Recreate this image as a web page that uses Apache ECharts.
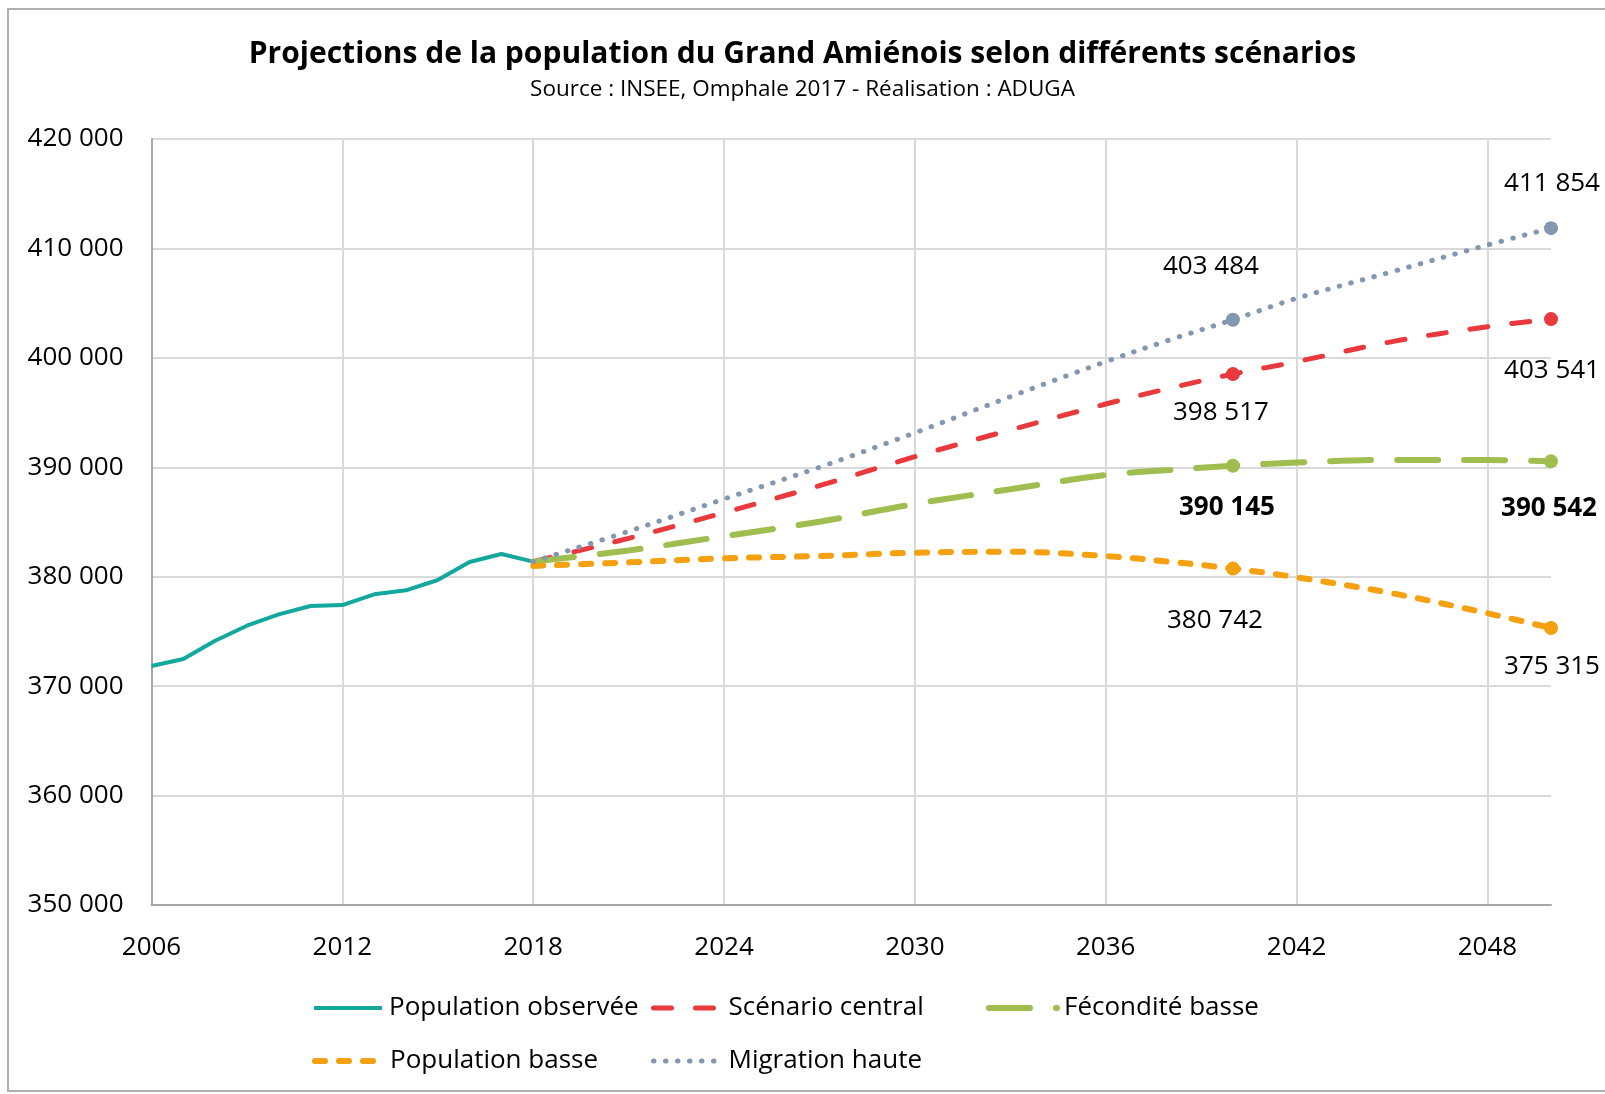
<!DOCTYPE html>
<html>
<head>
<meta charset="utf-8">
<script src="https://cdn.jsdelivr.net/npm/echarts@6/dist/echarts.min.js"></script>
<style>
html,body{margin:0;padding:0;background:#fff;}
#chart{width:1605px;height:1094px;}
</style>
</head>
<body>
<div id="chart"></div>
<script>
// ---------- DATA ----------
const titleText = 'Projections de la population du Grand Amiénois selon différents scénarios';
const subtitleText = 'Source : INSEE, Omphale 2017 - Réalisation : ADUGA';

const seriesNames = ['Population observée', 'Scénario central', 'Fécondité basse', 'Population basse', 'Migration haute'];

const obsYears = [2006, 2007, 2008, 2009, 2010, 2011, 2012, 2013, 2014, 2015, 2016, 2017, 2018];
const obsValues = [371837, 372480, 374150, 375520, 376560, 377320, 377410, 378390, 378755, 379700, 381340, 382075, 381378];

const projYears = [2018, 2021, 2024, 2027, 2030, 2033, 2036, 2038, 2040, 2042, 2045, 2048, 2050];
const centralValues   = [381378, 383510, 385850, 388320, 390970, 393410, 395780, 397220, 398517, 399650, 401480, 402850, 403541];
const feconditeValues = [381378, 382400, 383700, 385030, 386650, 387990, 389300, 389750, 390145, 390440, 390670, 390670, 390542];
const popBasseValues  = [380980, 381310, 381680, 381890, 382190, 382280, 381890, 381370, 380742, 379950, 378490, 376660, 375315];
const migrationValues = [381378, 384150, 387100, 390000, 393150, 396450, 399650, 401630, 403484, 405440, 407870, 410310, 411854];

const markerYears = [2040, 2050];
const annotationYears = [2040, 2050];

const yTicks = {min: 350000, max: 420000, interval: 10000};
const xTicks = {min: 2006, max: 2050, interval: 6};

// ---------- HELPERS ----------
const FONT = '"Open Sans", "Noto Sans", sans-serif';
function fmt(v){ return String(Math.round(v)).replace(/\B(?=(\d{3})+(?!\d))/g, ' '); }

function projData(values, offsets, bold){
  return projYears.map((y, i) => {
    const item = {value: [y, values[i]]};
    if (markerYears.indexOf(y) >= 0) {
      item.symbol = 'circle';
      item.symbolSize = 14;
      item.label = {
        show: true, position: 'inside', offset: offsets[y],
        formatter: p => fmt(p.value[1]),
        fontSize: 26, fontFamily: FONT, color: '#000',
        fontWeight: bold ? 'bold' : 'normal'
      };
    }
    return item;
  });
}

const obsData = obsYears.map((y, i) => {
  const item = {value: [y, obsValues[i]]};
  if (i === obsYears.length - 1) {
    item.symbol = 'circle';
    item.symbolSize = 1;
    item.itemStyle = {opacity: 0};
    item.label = {show: true, position: 'inside', offset: [-16, -57],
      formatter: p => fmt(p.value[1]), fontSize: 26, fontFamily: FONT, color: '#000'};
  }
  return item;
});

const colors = {
  obs: '#13a89e', central: '#e8393c', fec: '#a0bd50', basse: '#f5a00f', migr: '#8497b0'
};

function mkLegend(name, left, top, lw){
  return {
    data: [name], left: left, top: top, padding: 0,
    itemWidth: 68, itemHeight: 16, itemGap: 0,
    itemStyle: {opacity: 0, borderWidth: 0},
    lineStyle: {width: lw},
    textStyle: {fontSize: 26, fontFamily: FONT, color: '#000', padding: [0, 0, 0, 2]}
  };
}

const chart = echarts.init(document.getElementById('chart'), null, {renderer: 'canvas'});
chart.setOption({
  animation: false,
  backgroundColor: '#fff',
  title: {
    text: titleText, subtext: subtitleText, left: 'center', top: 31, itemGap: 4,
    textStyle: {fontSize: 30, fontWeight: 'bold', fontFamily: FONT, color: '#000', lineHeight: 36},
    subtextStyle: {fontSize: 22.5, fontFamily: FONT, color: '#000', lineHeight: 28}
  },
  graphic: [{
    type: 'rect', shape: {x: 8, y: 9, width: 1650, height: 1082},
    style: {fill: 'none', stroke: '#b0b0b0', lineWidth: 2}, silent: true, z: -1
  }],
  grid: {left: 151.5, right: 54, top: 139, bottom: 189, containLabel: false},
  legend: [
    mkLegend(seriesNames[0], 312, 995, 4),
    mkLegend(seriesNames[1], 651, 995, 5),
    mkLegend(seriesNames[2], 986, 995, 6),
    mkLegend(seriesNames[3], 312, 1048, 6),
    mkLegend(seriesNames[4], 651, 1048, 5)
  ],
  xAxis: {
    type: 'value', min: xTicks.min, max: xTicks.max, interval: xTicks.interval,
    axisLine: {show: true, lineStyle: {color: '#a6a6a6', width: 2}},
    axisTick: {show: false},
    axisLabel: {fontSize: 26, fontFamily: FONT, color: '#000', margin: 30, showMaxLabel: false,
      formatter: v => String(v)},
    splitLine: {show: true, showMinLine: false, showMaxLine: false, lineStyle: {color: '#d9d9d9', width: 2}}
  },
  yAxis: {
    type: 'value', min: yTicks.min, max: yTicks.max, interval: yTicks.interval,
    axisLine: {show: true, lineStyle: {color: '#a6a6a6', width: 2}},
    axisTick: {show: false},
    axisLabel: {fontSize: 26, fontFamily: FONT, color: '#000', margin: 28, formatter: v => fmt(v)},
    splitLine: {show: true, lineStyle: {color: '#d9d9d9', width: 2}}
  },
  series: [
    {
      name: seriesNames[0], type: 'line', data: obsData, symbol: 'none', z: 3,
      color: colors.obs, lineStyle: {color: colors.obs, width: 4}
    },
    {
      name: seriesNames[1], type: 'line', smooth: 0.35, symbol: 'none', z: 4,
      color: colors.central,
      lineStyle: {color: colors.central, width: 5, type: [18, 24], cap: 'round'},
      data: projData(centralValues, {2040: [-12, 39], 2050: [1, 51]}, false)
    },
    {
      name: seriesNames[2], type: 'line', smooth: 0.35, symbol: 'none', z: 5,
      color: colors.fec,
      lineStyle: {color: colors.fec, width: 6, type: [41, 26], cap: 'round'},
      data: projData(feconditeValues, {2040: [-6, 42], 2050: [-2, 47]}, true)
    },
    {
      name: seriesNames[3], type: 'line', smooth: 0.35, symbol: 'none', z: 6,
      color: colors.basse,
      lineStyle: {color: colors.basse, width: 6, type: [10, 14], cap: 'round'},
      data: projData(popBasseValues, {2040: [-18, 52], 2050: [1, 39]}, false)
    },
    {
      name: seriesNames[4], type: 'line', smooth: 0.35, symbol: 'none', z: 7,
      color: colors.migr,
      lineStyle: {color: colors.migr, width: 5, type: [0.5, 11.5], cap: 'round'},
      data: projData(migrationValues, {2040: [-22, -53], 2050: [1, -45]}, false),
      markPoint: {
        symbol: 'circle', symbolSize: 1, itemStyle: {opacity: 0}, silent: true,
        data: annotationYears.map((y, i) => ({
          coord: [y, yTicks.min],
          label: {show: true, position: 'inside', offset: [i === 0 ? -20 : -18, -40],
            formatter: String(y), fontSize: 26, fontWeight: 'bold', fontFamily: FONT, color: '#000'}
        }))
      }
    }
  ]
});
</script>
</body>
</html>
